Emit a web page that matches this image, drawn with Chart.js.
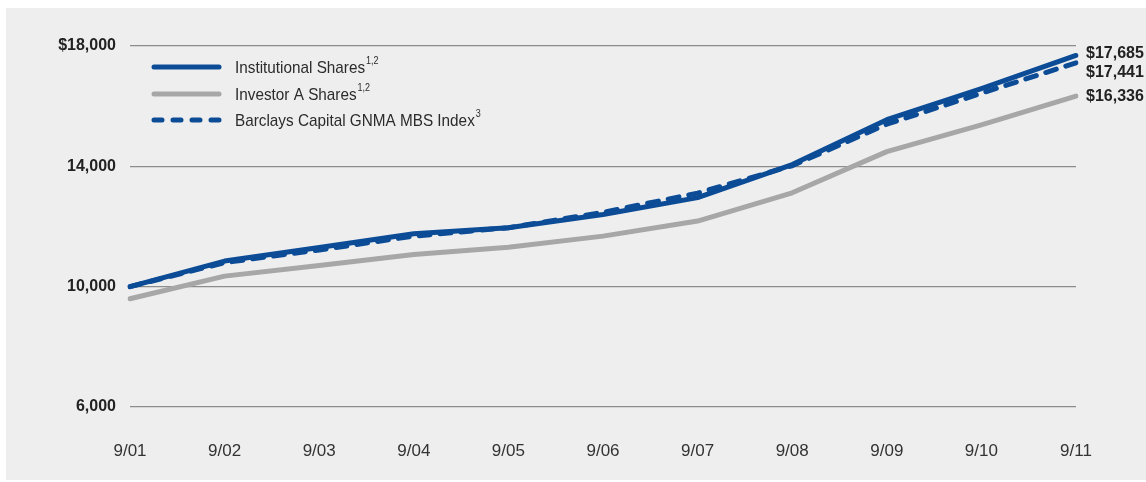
<!DOCTYPE html>
<html>
<head>
<meta charset="utf-8">
<script src="https://cdn.jsdelivr.net/npm/chart.js@4"></script>
<style>
  html, body { margin: 0; padding: 0; background: #ffffff; }
  #wrap { width: 1146px; height: 482px; position: relative; }
</style>
</head>
<body>
<div id="wrap"><canvas id="c" width="1146" height="482"></canvas></div>
<script>
// Growth of a $10,000 investment, fiscal years ending September
const periods = ['9/01', '9/02', '9/03', '9/04', '9/05', '9/06', '9/07', '9/08', '9/09', '9/10', '9/11'];
const institutionalShares = [10000, 10850, 11300, 11760, 11960, 12400, 12960, 14060, 15550, 16580, 17685];
const investorAShares     = [9600, 10350, 10700, 11070, 11310, 11680, 12180, 13120, 14490, 15380, 16336];
const gnmaMbsIndex        = [10000, 10800, 11220, 11680, 11960, 12470, 13110, 14020, 15400, 16430, 17441];

const seriesNames = ['Institutional Shares', 'Investor A Shares', 'Barclays Capital GNMA MBS Index'];
const seriesNotes = ['1,2', '1,2', '3'];
const endLabels   = ['$17,685', '$16,336', '$17,441'];

const yTickValues = [6000, 10000, 14000, 18000];
const yTickLabels = ['6,000', '10,000', '14,000', '$18,000'];

const BLUE = '#0c4c96';
const GREY = '#a7a7a7';
const SANS = "'Liberation Sans', Arial, sans-serif";

// Panel background
const panelPlugin = {
  id: 'panel',
  beforeDraw(chart) {
    const ctx = chart.ctx;
    ctx.save();
    ctx.fillStyle = '#ffffff';
    ctx.fillRect(0, 0, chart.width, chart.height);
    ctx.fillStyle = '#eeeeee';
    ctx.fillRect(6, 8, chart.width - 6, 472);
    ctx.restore();
  }
};

// Legend with superscript notes, drawn inside the plot (condensed text)
const legendPlugin = {
  id: 'noteLegend',
  afterDraw(chart) {
    const ctx = chart.ctx;
    const x0 = 154, x1 = 219, tx = 235, squeeze = 0.9;
    const rows = [67, 94, 120];
    const styles = [
      { color: BLUE, dash: [] },
      { color: GREY, dash: [] },
      { color: BLUE, dash: [8, 11] }
    ];
    ctx.save();
    rows.forEach((y, i) => {
      ctx.beginPath();
      ctx.strokeStyle = styles[i].color;
      ctx.lineWidth = 5;
      ctx.lineCap = 'round';
      ctx.setLineDash(styles[i].dash);
      ctx.moveTo(x0, y);
      ctx.lineTo(x1, y);
      ctx.stroke();
      ctx.setLineDash([]);

      ctx.save();
      ctx.translate(tx, y);
      ctx.scale(squeeze, 1);
      ctx.fillStyle = '#2b2b2b';
      ctx.textBaseline = 'middle';
      ctx.textAlign = 'left';
      ctx.font = '17px ' + SANS;
      ctx.fillText(seriesNames[i], 0, 1);
      const w = ctx.measureText(seriesNames[i]).width;
      ctx.font = '10px ' + SANS;
      ctx.fillText(seriesNotes[i], w + 1, -6);
      ctx.restore();
    });
    ctx.restore();
  }
};

// Ending values at the right of each line
const endLabelPlugin = {
  id: 'endLabels',
  afterDatasetsDraw(chart) {
    const ctx = chart.ctx;
    const ys = chart.scales.y;
    const xEnd = chart.chartArea.right + 10;
    const last = periods.length - 1;
    const yInst = ys.getPixelForValue(institutionalShares[last]) - 2;
    const yIdx = Math.max(ys.getPixelForValue(gnmaMbsIndex[last]), yInst + 19);
    const yInv = ys.getPixelForValue(investorAShares[last]) + 1;
    ctx.save();
    ctx.fillStyle = '#222222';
    ctx.font = 'bold 16px ' + SANS;
    ctx.textAlign = 'left';
    ctx.textBaseline = 'middle';
    ctx.fillText(endLabels[0], xEnd, yInst);
    ctx.fillText(endLabels[2], xEnd, yIdx);
    ctx.fillText(endLabels[1], xEnd, yInv);
    ctx.restore();
  }
};

new Chart(document.getElementById('c'), {
  type: 'line',
  data: {
    labels: periods,
    datasets: [
      {
        label: seriesNames[0],
        data: institutionalShares,
        borderColor: BLUE,
        borderWidth: 5,
        borderCapStyle: 'round',
        borderJoinStyle: 'round',
        order: 1
      },
      {
        label: seriesNames[1],
        data: investorAShares,
        borderColor: GREY,
        borderWidth: 5,
        borderCapStyle: 'round',
        borderJoinStyle: 'round',
        order: 2
      },
      {
        label: seriesNames[2],
        data: gnmaMbsIndex,
        borderColor: BLUE,
        borderWidth: 5,
        borderDash: [11, 10],
        borderCapStyle: 'round',
        borderJoinStyle: 'round',
        order: 0
      }
    ]
  },
  options: {
    responsive: false,
    animation: false,
    devicePixelRatio: 1,
    elements: { point: { radius: 0, hoverRadius: 0 }, line: { tension: 0, fill: false } },
    layout: { padding: { top: 46, right: 70, bottom: 0, left: 0 } },
    plugins: { legend: { display: false }, tooltip: { enabled: false } },
    scales: {
      x: {
        offset: false,
        grid: { display: false, drawTicks: false },
        border: { display: false },
        ticks: {
          padding: 34,
          color: '#333333',
          font: { family: SANS, size: 17 },
          maxRotation: 0,
          autoSkip: false
        },
        afterFit(scale) { scale.height = 75; }
      },
      y: {
        min: 6000,
        max: 18000,
        afterBuildTicks(scale) { scale.ticks = yTickValues.map(v => ({ value: v })); },
        grid: { color: '#8c8c8c', lineWidth: 1.3, drawTicks: false },
        border: { display: false },
        ticks: {
          padding: 14,
          color: '#222222',
          font: { family: SANS, size: 16, weight: 'bold' },
          callback(value) {
            const i = yTickValues.indexOf(value);
            return i >= 0 ? yTickLabels[i] : '';
          }
        },
        afterFit(scale) { scale.width = 130; }
      }
    }
  },
  plugins: [panelPlugin, legendPlugin, endLabelPlugin]
});
</script>
</body>
</html>
